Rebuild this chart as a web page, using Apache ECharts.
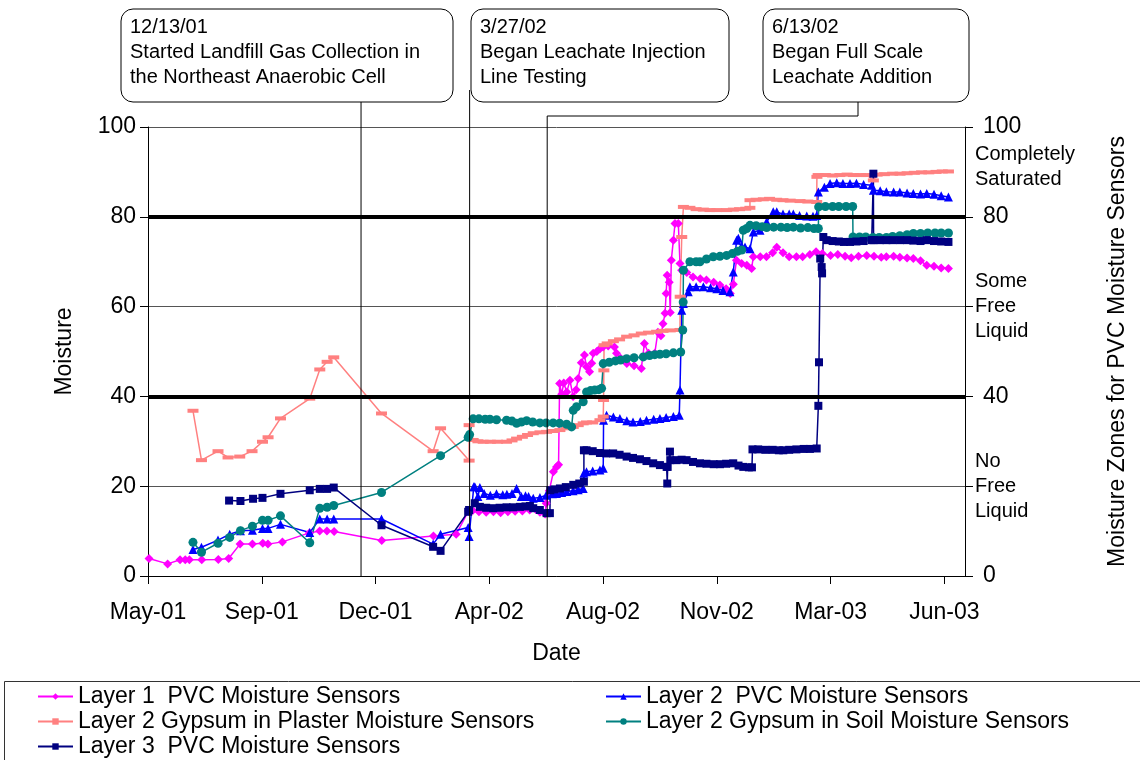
<!DOCTYPE html>
<html>
<head>
<meta charset="utf-8">
<title>Moisture sensors</title>
<script src="https://cdn.jsdelivr.net/npm/echarts@6/dist/echarts.min.js"></script>
<style>
  html, body { margin: 0; padding: 0; background: #fff; }
  #chart { width: 1140px; height: 760px; }
</style>
</head>
<body>
<div id="chart"></div>
<script>
// x values are days after 21 May 2001 (left edge of the date axis)
const AXIS_START = Date.UTC(2001, 4, 21);
const xTickDays = [0, 110, 220, 330, 440, 550, 660, 770];
const yTicks = [0, 20, 40, 60, 80, 100];
const zoneLines = [40, 80];
const zoneLabels = { 20: ['No', 'Free', 'Liquid'], 60: ['Some', 'Free', 'Liquid'], 91: ['Completely', 'Saturated'] };

const events = [
  { day: 206, lines: ['12/13/01', 'Started Landfill Gas Collection in', 'the Northeast Anaerobic Cell'] },
  { day: 311, lines: ['3/27/02', 'Began Leachate Injection', 'Line Testing'] },
  { day: 386, lines: ['6/13/02', 'Began Full Scale', 'Leachate Addition'] }
];

const layer1PVC = [
  [1,3.9],[19,2.7],[31,3.6],[36,3.6],[40,3.6],[52,3.6],[68,3.7],[78,3.9],[89,7.1],[101,7.1],[111,7.3],[116,7.1],
  [130,7.6],[156,9.6],[166,10.0],[173,10.0],[180,9.9],[226,7.9],[276,8.9],[298,9.3],[310,14.5],
  [314,14.6],[320,14.3],[327,14.2],[334,14.3],[341,14.1],[348,14.3],[355,14.4],[362,14.5],[369,14.7],[375,14.8],
  [379,14.2],[384,13.8],[385,16.2],[388,19],[392,23.2],[395,24.3],[397,24.8],
  [398,42.9],[400,40.5],[402,43.0],[405,41.0],[408,43.6],[411,40.0],[414,41.5],[416,44],[419,47.5],[422,49.2],
  [424,46.6],[427,45.5],[429,47.4],[430.5,49.6],[434,50],[437,50.6],[440,51],[445,51.2],[451,51],[453,49.6],
  [457,48.5],[463,47.3],[470,46.8],[477,46.2],[480,51.8],[484,49.6],[490,49.6],[493,54.3],[496,53.5],[498,56.2],
  [500,58.5],[501,62.9],[502,67],[504,65.4],[505,58.7],[506,70.3],[508,74.8],[509.6,78.5],[512.8,78.5],
  [514.4,69.6],[516,68.1],[521,67.6],[527,66.6],[534,66.2],[540,65.9],[547,65.4],[553,64.8],[559,64],[563,62.9],
  [566,65],[569,70.3],[574,69.6],[579,69.2],[583.7,68.5],[585.3,71.1],[592,71.1],[598,71.1],[604,72],[608,73.2],
  [614,72],[620,71.1],[627,71.1],[633,71.1],[640,71.6],[646,72.2],[652,71.8],[660,71.4],[667,71.6],[674,71.2],
  [680,70.9],[687,71.2],[695,71.4],[702,71.2],[709,71],[714,71.1],[721,71.2],[727,71],[734,70.8],[740,70.7],
  [747,70.2],[753,69.2],[760,69],[767,68.6],[774,68.5]
];

const layer2PVC = [
  [43.5,5.9],[51.7,6.4],[67.7,8.0],[79,9.3],[89.4,10.1],[101,10.2],[110.7,10.6],[116.1,10.6],[128.1,11.5],
  [156.4,9.7],[166.1,12.7],[173.2,12.7],[179.6,12.7],[225.8,12.7],[275.7,7.1],[282.9,9.3],[309.6,10.8],[310.5,8.8],
  [315,19.9],[316,19.9],[319,17.7],[320.9,19.7],[325,18.4],[331,18.0],[337,18.3],[343,18.1],[347,18.2],[352,18.4],
  [356.4,19.5],[361,17.7],[365,17.9],[368,17.7],[372.5,17.3],[379,17.5],[385,18.0],[391,18.3],[395,18.4],[400,18.6],
  [405,18.8],[411,19.0],[416,19.2],[420.8,19.5],[421.5,22.9],[424,23.2],[430,23.4],[437,23.6],[440.2,24.0],
  [440.5,34.7],[443.4,35.8],[450,35.4],[456.3,35.1],[463,34.6],[469,34.3],[476,34.4],[482,34.7],[489,34.9],
  [495,35.1],[501,35.3],[508,35.5],[513.7,35.8],[514.4,41.4],[516.1,59.2],[517.7,60.7],[522.4,63.3],[524,64.4],
  [530,64.4],[537,64.4],[544,64.2],[550,64],[556,63.6],[562.7,63.3],[565.9,67.7],[569.2,74.8],[570.8,75.2],
  [574,73.5],[577.3,73.3],[582.1,72.9],[585.3,76.6],[591.8,77],[598.2,78.9],[604.6,81.1],[608,81.1],[614,80.6],
  [620,80.6],[624,80.6],[630,80.3],[637,80.2],[643,80.1],[646.6,80.3],[648.2,85.5],[654,86.6],[659.5,87.4],
  [666,87.6],[672,87.4],[678.8,87.4],[685,87.5],[692,87.2],[699.8,87.0],[701.4,85.9],[708,85.8],[714,85.6],
  [721,85.5],[727,85.5],[734,85.3],[740,85.2],[747,85.1],[753,85.2],[760,85],[767,84.7],[774,84.4]
];

const layer2Plaster = [
  [43.5,36.8],[51.7,25.8],[67.7,27.8],[77.4,26.4],[88.7,26.6],[100.6,27.8],[110.7,29.9],[116.1,30.9],[128.1,35.1],
  [156.4,39.5],[166.1,46.0],[173.2,47.7],[179.6,48.7],[225.8,36.2],[275.7,27.8],[282.9,32.9],[310.5,25.7],[310.5,33.6],
  [314.4,30.3],[319,30.0],[324.1,29.9],[331,29.9],[338,29.9],[346.7,29.9],[352,30.2],[356.4,30.6],[362,31],
  [367,31.4],[372.5,31.8],[379,32.0],[385.4,32.1],[392,32.3],[398.3,32.5],[405,32.9],[411.2,33.2],[416,33.6],
  [420.8,34.0],[424,34.2],[430,34.2],[437,34.7],[440.2,35.5],[440.5,39.2],[440.8,45.8],[441,51.4],[444,51.8],
  [450,52.3],[456,52.7],[462.8,53.3],[470,53.6],[477,54],[484,54.2],[491.8,54.4],[498,54.6],[505,54.7],
  [514.4,54.8],[514.6,62.2],[516.1,75.5],[517.7,82.2],[524,82.0],[530,81.7],[537,81.6],[543.4,81.5],[550,81.5],
  [559.5,81.5],[566,81.6],[572,81.7],[578,81.8],[582,82.0],[582.1,83.7],[588,83.8],[595,83.9],[601,84.0],
  [607.9,83.8],[614,83.7],[621,83.6],[630.5,83.5],[638,83.4],[646.6,83.3],[646.8,88.9],[648,89.3],[655,89.3],
  [662,89.2],[669,89.3],[676,89.4],[682,89.3],[689,89.3],[695,89.3],[701.4,88.1],[705,89.4],[712,89.5],
  [720,89.6],[727.2,89.6],[734,89.7],[741,89.8],[748,89.9],[755,89.9],[762,90.0],[768,90.1],[774,90.1]
];

const layer2Soil = [
  [43.5,7.5],[51.7,5.3],[67.7,7.3],[79,8.6],[89.4,10.1],[101,11.1],[110.7,12.4],[116.1,12.4],[128.1,13.4],
  [156.4,7.4],[166.1,15.1],[173.2,15.3],[179.6,15.7],[225.8,18.6],[282.9,26.8],[309.6,30.9],[311,31.5],
  [314.4,35.0],[320,35.0],[326,34.9],[330.6,34.9],[337,34.8],[346.7,34.7],[352,34.5],[356.4,34.0],[361,34.3],
  [366.1,34.6],[372,34.3],[378.9,34.1],[385,34.1],[391.8,34.1],[398,34.0],[404.8,33.8],[409.6,33.2],[411.2,36.9],
  [414.4,37.7],[420.8,38.8],[424.1,41.0],[428,41.3],[432,41.4],[436,41.5],[438.6,41.8],[440.2,47.3],[446,47.6],
  [452,47.9],[457,48.1],[462.8,48.4],[470,48.6],[478.9,48.8],[485,49.1],[490,49.3],[495,49.4],[501,49.5],
  [508,49.7],[515.1,49.9],[517.1,54.8],[517.5,61.0],[517.7,68.1],[524,70.0],[530,70.0],[533.7,70.0],[540,70.6],
  [546.6,71.1],[553,71.2],[559.5,71.4],[565,71.8],[570,72.3],[574.1,72.6],[575.6,77.0],[578.9,77.4],[582.1,78.1],
  [588,78.0],[594,77.8],[598.2,77.6],[605,77.7],[612,77.7],[618,77.6],[624,77.7],[631,77.5],[638,77.6],
  [644,77.4],[648.2,77.4],[648.5,82.2],[655,82.3],[662,82.3],[668,82.3],[675,82.3],[681.4,82.3],[681.7,75.5],
  [688,75.5],[694,75.5],[701,75.4],[707,75.4],[714,75.4],[720,75.6],[727,75.8],[734,76],[740.1,76.3],
  [747,76.3],[754,76.4],[761,76.4],[767,76.4],[774,76.4]
];

const layer3PVC = [
  [78.4,16.8],[89.4,16.7],[101.6,17.2],[110.7,17.4],[128.1,18.3],[156.4,19.1],[166.1,19.4],[173.2,19.4],[179.6,19.7],
  [225.8,11.3],[275.7,6.5],[282.9,5.6],[309.6,14.3],[310.5,14.7],[316,16.2],[320.9,15.4],[327,15.2],[333.8,15.1],
  [340,15.2],[346.7,15.3],[353,15.3],[359.6,15.4],[365,15.5],[369.3,15.6],[372.5,15.1],[378.9,14.7],[385.4,14.0],
  [388.6,14.0],[389,19.1],[393,19.3],[398.3,19.5],[404,19.8],[411.2,20.3],[417,20.6],[421.5,21.0],[421.5,28.0],
  [424.1,28.0],[430,27.8],[437,27.4],[443,27.3],[449.8,27.3],[456,27.0],[462.8,26.6],[469,26.3],[475.7,26.0],
  [482,25.6],[488.5,25.1],[495,24.7],[501.5,24.3],[502.1,20.6],[502.5,24.3],[504.7,27.7],[505,25.8],[511,25.8],
  [516,25.9],[520.8,25.8],[527,25.4],[533.7,25.1],[540,25.0],[547,24.9],[553.1,24.9],[559,25.0],[565.9,25.1],
  [571,24.6],[575.6,24.3],[581,24.2],[584,24.2],[584.5,28.2],[590,28.2],[597,28.1],[604,28.1],[610,28.0],
  [614.3,28.0],[620,28.1],[627,28.2],[634,28.3],[640,28.3],[646.6,28.4],[648.2,37.9],[648.8,47.6],[650,70.7],
  [651.4,68.8],[651.8,67.4],[653,75.5],[656.3,74.8],[662,74.6],[668,74.5],[673,74.4],[678.8,74.4],[685,74.5],
  [692,74.6],[699.8,74.8],[701.4,89.6],[701.6,74.8],[708,74.8],[714,74.8],[720,74.8],[727.2,74.8],[734,74.8],
  [740,74.7],[747,74.6],[753,74.8],[760,74.6],[767,74.5],[774,74.4]
];

const FONT = '"Liberation Sans", Arial, Helvetica, sans-serif';
const MONTHS = ['Jan','Feb','Mar','Apr','May','Jun','Jul','Aug','Sep','Oct','Nov','Dec'];

function dayLabel(d) {
  const dt = new Date(AXIS_START + d * 86400000);
  return MONTHS[dt.getUTCMonth()] + '-' + String(dt.getUTCFullYear() % 100).padStart(2, '0');
}

function lineSeries(name, data, color, symbol, size) {
  return {
    name: name,
    type: 'line',
    data: data,
    symbol: symbol,
    symbolSize: size,
    showSymbol: true,
    itemStyle: { color: color },
    lineStyle: { color: color, width: 1.5 },
    emphasis: { disabled: true },
    animation: false
  };
}

const chart = echarts.init(document.getElementById('chart'));

const series = [
  lineSeries('Layer 1  PVC Moisture Sensors', layer1PVC, '#FF00FF', 'diamond', 9),
  lineSeries('Layer 2  PVC Moisture Sensors', layer2PVC, '#0000FF', 'triangle', 9),
  lineSeries('Layer 2 Gypsum in Plaster Moisture Sensors', layer2Plaster, '#FF8080', 'rect', [11, 4]),
  lineSeries('Layer 2 Gypsum in Soil Moisture Sensors', layer2Soil, '#008080', 'circle', 9),
  lineSeries('Layer 3  PVC Moisture Sensors', layer3PVC, '#000080', 'rect', 8)
];
// thick black zone boundaries
series[0].markLine = {
  silent: true,
  symbol: ['none', 'none'],
  label: { show: false },
  lineStyle: { color: '#000', width: 4, type: 'solid' },
  data: zoneLines.map(v => ({ yAxis: v })),
  animation: false
};

const legendText = { color: '#000', fontSize: 23, fontFamily: FONT, lineHeight: 25 };

chart.setOption({
  backgroundColor: '#fff',
  animation: false,
  grid: { left: 148, right: 175, top: 127, bottom: 184 },
  legend: [
    {
      orient: 'vertical', left: 37, top: 684, padding: 0, itemGap: 0, itemWidth: 35, itemHeight: 8,
      data: [series[0].name, series[2].name, series[4].name],
      textStyle: legendText, selectedMode: false
    },
    {
      orient: 'vertical', left: 605, top: 684, padding: 0, itemGap: 0, itemWidth: 35, itemHeight: 8,
      data: [series[1].name, series[3].name],
      textStyle: legendText, selectedMode: false
    }
  ],
  xAxis: {
    type: 'value',
    min: 0, max: 790, interval: 110,
    name: 'Date', nameLocation: 'middle', nameGap: 66,
    nameTextStyle: { color: '#000', fontSize: 23, fontFamily: FONT },
    axisLine: { lineStyle: { color: '#000', width: 1 } },
    axisTick: { customValues: xTickDays, length: 8, lineStyle: { color: '#000' } },
    axisLabel: {
      customValues: xTickDays, margin: 25,
      color: '#000', fontSize: 23, fontFamily: FONT,
      formatter: v => dayLabel(v)
    },
    splitLine: { show: false }
  },
  yAxis: [
    {
      type: 'value', min: 0, max: 100, interval: 20, position: 'left',
      name: 'Moisture', nameLocation: 'middle', nameGap: 72,
      nameTextStyle: { color: '#000', fontSize: 23, fontFamily: FONT },
      axisLine: { show: true, lineStyle: { color: '#000', width: 1 } },
      axisTick: { show: true, length: 8, lineStyle: { color: '#000' } },
      axisLabel: { margin: 12, color: '#000', fontSize: 23, fontFamily: FONT },
      splitLine: { show: true, lineStyle: { color: '#555', width: 1 } }
    },
    {
      type: 'value', min: 0, max: 100, interval: 20, position: 'right',
      name: 'Moisture Zones for PVC Moisture Sensors', nameLocation: 'middle', nameGap: 141,
      nameRotate: 90,
      nameTextStyle: { color: '#000', fontSize: 23, fontFamily: FONT },
      axisLine: { show: true, lineStyle: { color: '#000', width: 1 } },
      axisTick: { show: true, customValues: yTicks, length: 8, lineStyle: { color: '#000' } },
      axisLabel: {
        customValues: [0, 20, 40, 60, 80, 91, 100],
        margin: 10,
        formatter: v => zoneLabels[v] ? zoneLabels[v].map(s => '{z|' + s + '}').join('\n') : '{n|' + v + '}',
        rich: {
          n: { color: '#000', fontSize: 23, fontFamily: FONT, padding: [0, 0, 0, 8] },
          z: { color: '#000', fontSize: 20, fontFamily: FONT, lineHeight: 25 }
        }
      },
      splitLine: { show: false }
    }
  ],
  series: series
});

// callouts and their leader lines, placed from the event dates
function drawCallouts() {
  const bottom = chart.convertToPixel({ yAxisIndex: 0 }, 0);
  const px = events.map(e => chart.convertToPixel({ xAxisIndex: 0 }, e.day));
  const boxes = [
    { x: 121, y: 9, w: 332, h: 93 },
    { x: 471, y: 9, w: 258, h: 93 },
    { x: 763, y: 9, w: 206, h: 93 }
  ];
  const g = [];
  const ls = { stroke: '#000', lineWidth: 1 };
  g.push({ type: 'line', shape: { x1: px[0], y1: 102, x2: px[0], y2: bottom }, style: ls, z: 50 });
  g.push({ type: 'line', shape: { x1: px[1], y1: 90, x2: px[1], y2: bottom }, style: ls, z: 50 });
  g.push({ type: 'polyline', shape: { points: [[858, 102], [858, 116], [px[2], 116], [px[2], bottom]] },
           style: { stroke: '#000', lineWidth: 1, fill: null }, z: 50 });
  events.forEach((e, i) => {
    const b = boxes[i];
    g.push({ type: 'rect', shape: { x: b.x, y: b.y, width: b.w, height: b.h, r: 12 },
             style: { fill: '#fff', stroke: '#000', lineWidth: 1 }, z: 51 });
    e.lines.forEach((t, j) => {
      g.push({ type: 'text', x: b.x + 9, y: 27 + j * 25,
               style: { text: t, fill: '#000', fontSize: 20, fontFamily: FONT, verticalAlign: 'middle' }, z: 52 });
    });
  });
  // legend frame
  g.push({ type: 'rect', shape: { x: 4.5, y: 681.5, width: 1200, height: 120 },
           style: { fill: null, stroke: '#333', lineWidth: 1 }, z: 0 });
  chart.setOption({ graphic: g });
}
drawCallouts();
</script>
</body>
</html>
